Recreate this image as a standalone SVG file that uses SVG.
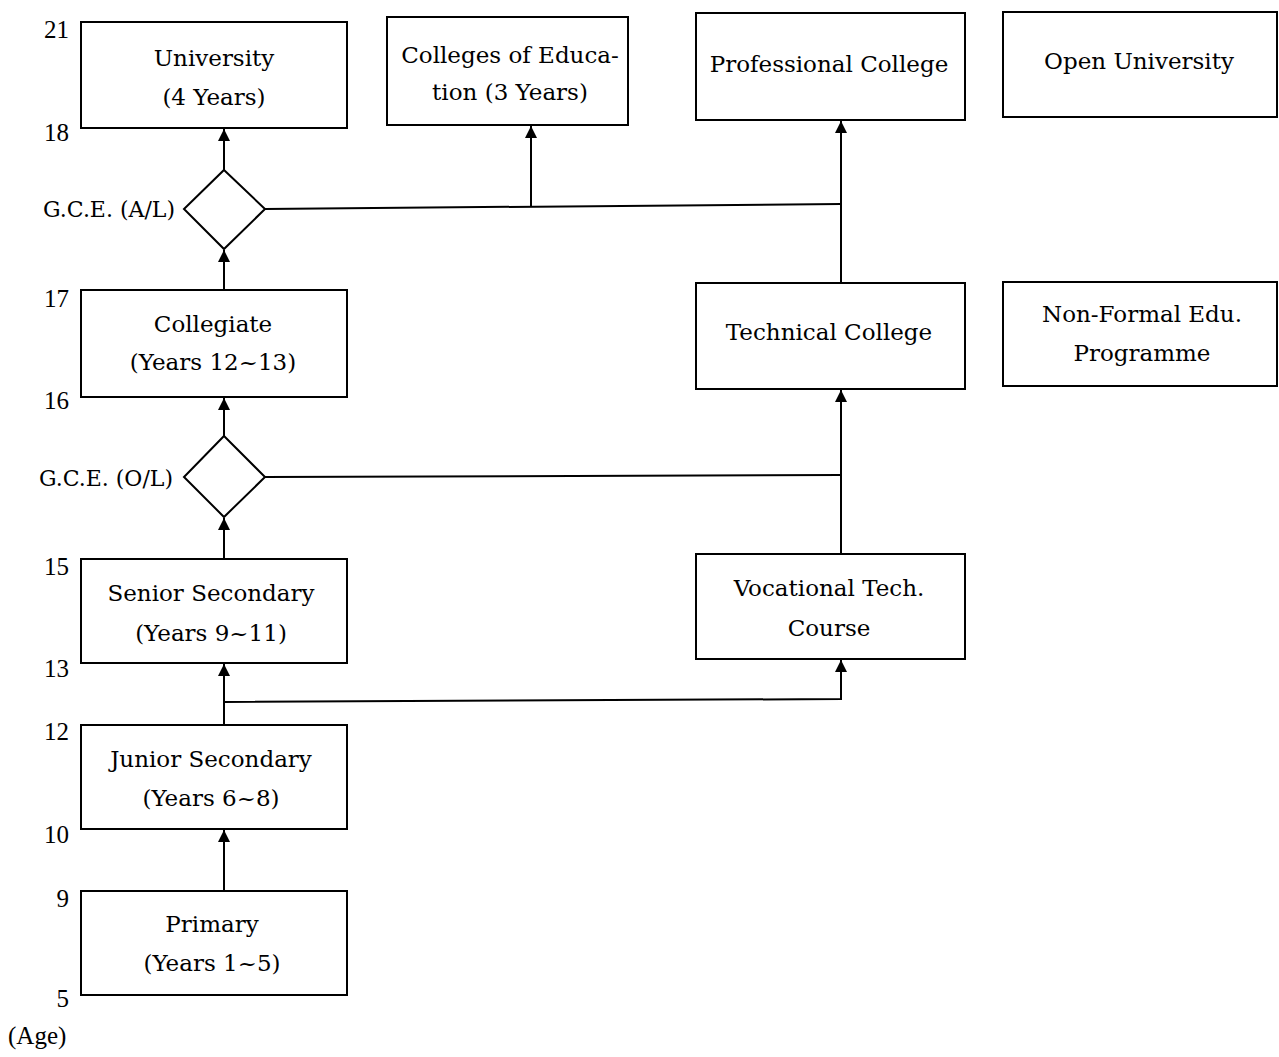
<svg xmlns="http://www.w3.org/2000/svg" width="1279" height="1057" viewBox="0 0 1279 1057">
<defs>
<marker id="ah" viewBox="0 0 10 10" refX="10" refY="5" markerWidth="16" markerHeight="12" markerUnits="userSpaceOnUse" orient="auto">
<path d="M0,0 L10,5 L0,10 z" fill="#000"/>
</marker>
</defs>
<style>
.box{fill:#fff;stroke:#000;stroke-width:2}
.t{font-family:"DejaVu Serif","Liberation Serif",serif;font-size:23px;fill:#000;text-anchor:middle}
.lbl{font-family:"DejaVu Serif","Liberation Serif",serif;font-size:22px;fill:#000;text-anchor:end}
.age{font-family:"Liberation Serif","DejaVu Serif",serif;font-size:25px;fill:#000;text-anchor:end}
.c{fill:none;stroke:#000;stroke-width:2}
.ca{fill:none;stroke:#000;stroke-width:2;marker-end:url(#ah)}
</style>
<rect width="1279" height="1057" fill="#fff"/>

<g id="ages">
<text class="age" x="69" y="38">21</text>
<text class="age" x="69" y="141">18</text>
<text class="age" x="69" y="307">17</text>
<text class="age" x="69" y="409">16</text>
<text class="age" x="69" y="575">15</text>
<text class="age" x="69" y="677">13</text>
<text class="age" x="69" y="740">12</text>
<text class="age" x="69" y="843">10</text>
<text class="age" x="69" y="907">9</text>
<text class="age" x="69" y="1007">5</text>
<text class="age" x="8" y="1044" style="text-anchor:start">(Age)</text>
</g>

<g id="connectors">
<line class="ca" x1="224" y1="170" x2="224" y2="129"/>
<line class="ca" x1="224" y1="290" x2="224" y2="250"/>
<polyline class="c" points="265,209 841,204"/>
<line class="ca" x1="531" y1="206" x2="531" y2="126"/>
<line class="ca" x1="841" y1="283" x2="841" y2="121"/>
<line class="ca" x1="224" y1="436" x2="224" y2="398"/>
<line class="ca" x1="224" y1="559" x2="224" y2="518"/>
<polyline class="c" points="265,477 841,475"/>
<line class="ca" x1="841" y1="554" x2="841" y2="390"/>
<line class="ca" x1="224" y1="725" x2="224" y2="664"/>
<polyline class="ca" points="224,702 841,699 841,660"/>
<line class="ca" x1="224" y1="891" x2="224" y2="830"/>
</g>

<g id="university">
<rect class="box" x="81" y="22" width="266" height="106"/>
<text class="t" x="214" y="66">University</text>
<text class="t" x="214" y="105">(4 Years)</text>
</g>
<g id="colleges-of-education">
<rect class="box" x="387" y="17" width="241" height="108"/>
<text class="t" x="510" y="63">Colleges of Educa-</text>
<text class="t" x="510" y="100">tion (3 Years)</text>
</g>
<g id="professional-college">
<rect class="box" x="696" y="13" width="269" height="107"/>
<text class="t" x="829" y="72">Professional College</text>
</g>
<g id="open-university">
<rect class="box" x="1003" y="12" width="274" height="105"/>
<text class="t" x="1139" y="69">Open University</text>
</g>
<g id="gce-al">
<polygon class="box" points="224,170 265,209 224,249 184,209"/>
<text class="lbl" x="175" y="217">G.C.E. (A/L)</text>
</g>
<g id="collegiate">
<rect class="box" x="81" y="290" width="266" height="107"/>
<text class="t" x="213" y="332">Collegiate</text>
<text class="t" x="213" y="370">(Years 12~13)</text>
</g>
<g id="technical-college">
<rect class="box" x="696" y="283" width="269" height="106"/>
<text class="t" x="829" y="340">Technical College</text>
</g>
<g id="non-formal">
<rect class="box" x="1003" y="282" width="274" height="104"/>
<text class="t" x="1142" y="322">Non-Formal Edu.</text>
<text class="t" x="1142" y="361">Programme</text>
</g>
<g id="gce-ol">
<polygon class="box" points="224,436 265,477 224,517 184,477"/>
<text class="lbl" x="173" y="486">G.C.E. (O/L)</text>
</g>
<g id="senior-secondary">
<rect class="box" x="81" y="559" width="266" height="104"/>
<text class="t" x="211" y="601">Senior Secondary</text>
<text class="t" x="211" y="641">(Years 9~11)</text>
</g>
<g id="vocational">
<rect class="box" x="696" y="554" width="269" height="105"/>
<text class="t" x="829" y="596">Vocational Tech.</text>
<text class="t" x="829" y="636">Course</text>
</g>
<g id="junior-secondary">
<rect class="box" x="81" y="725" width="266" height="104"/>
<text class="t" x="211" y="767">Junior Secondary</text>
<text class="t" x="211" y="806">(Years 6~8)</text>
</g>
<g id="primary">
<rect class="box" x="81" y="891" width="266" height="104"/>
<text class="t" x="212" y="932">Primary</text>
<text class="t" x="212" y="971">(Years 1~5)</text>
</g>
</svg>
